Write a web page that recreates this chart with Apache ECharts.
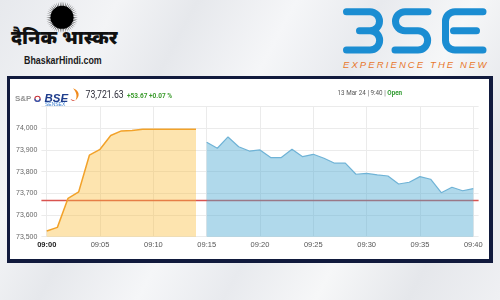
<!DOCTYPE html>
<html><head><meta charset="utf-8">
<script src="https://cdn.jsdelivr.net/npm/echarts@6/dist/echarts.min.js"></script>
<style>
html,body{margin:0;padding:0;width:500px;height:300px;overflow:hidden}
body{position:relative;background:linear-gradient(118deg,#e7e9ed 0%,#f3f4f6 18%,#e6e8ec 30%,#f5f6f8 45%,#e8eaee 58%,#f6f7f8 72%,#e5e7eb 86%,#eff0f3 100%);font-family:'Liberation Sans',Arial,sans-serif}
.abs{position:absolute}
#frame{left:7px;top:76px;width:478.5px;height:179.5px;background:#fff;border-style:solid;border-color:#111a3d;border-width:3.5px 4px 4px 3px}
#chart{left:0;top:0;width:500px;height:300px}
#hindi{left:11px;top:29px;font-family:'Noto Sans Devanagari','Lohit Devanagari','Noto Sans',sans-serif;font-weight:900;font-size:19px;line-height:22px;color:#111;white-space:nowrap}
#site{left:24px;top:54.5px;font-weight:bold;font-size:10px;line-height:11px;color:#1a1a1a;transform:scaleX(0.885);transform-origin:0 0;white-space:nowrap}
#tag{left:343px;top:58.5px;font-style:italic;font-size:9.5px;line-height:11px;letter-spacing:2.1px;color:#e8782c;white-space:nowrap}
</style></head>
<body>
<div id="frame" class="abs"></div>
<svg id="deco" class="abs" width="500" height="300" style="left:0;top:0" aria-label="BSE">
  <g id="sun"></g>
  <g fill="none" stroke="#1b8dd2" stroke-width="7" stroke-linecap="round">
    <path d="M 346.5 11.7 H 370 A 9.5 9.5 0 0 1 370 30.7 H 359.5 M 370 30.7 A 9.65 9.65 0 0 1 370 50 H 346.5"/>
    <path d="M 428 11.7 H 405 A 9.5 9.5 0 0 0 405 30.7 H 418 A 9.65 9.65 0 0 1 418 50 H 395"/>
    <path d="M 483 11.7 H 455 A 9.5 9.5 0 0 0 445.5 21.2 V 40.5 A 9.5 9.5 0 0 0 455 50 H 483 M 453.5 30.7 H 476.5"/>
  </g>
  <circle cx="37.5" cy="98.8" r="2.6" fill="none" stroke="#c8323a" stroke-width="1.1"/>
  <path d="M 34.9 98.8 A 2.6 2.6 0 0 0 40.1 98.8" fill="none" stroke="#2b5bb8" stroke-width="1.2"/>
  <path d="M 73 88.3 C 79.5 90.5 80.5 96 75.5 100.5 C 77.5 96 76.5 92.5 73 88.3 Z" fill="#f08a1c"/>
  <path d="M 70.5 99 C 73 100.5 74.5 100.5 75.5 100.5 C 74 101.5 71.5 101 70.5 99 Z" fill="#d23a2a"/>
</svg>
<div id="hindi" class="abs">दैनिक भास्कर</div>
<div id="site" class="abs">BhaskarHindi.com</div>
<div id="tag" class="abs">EXPERIENCE THE NEW</div>
<div id="chart" class="abs"></div>
<script>
// ---- data ----
const times = ['09:00','09:01','09:02','09:03','09:04','09:05','09:06','09:07','09:08','09:09',
  '09:10','09:11','09:12','09:13','09:14','09:15','09:16','09:17','09:18','09:19',
  '09:20','09:21','09:22','09:23','09:24','09:25','09:26','09:27','09:28','09:29',
  '09:30','09:31','09:32','09:33','09:34','09:35','09:36','09:37','09:38','09:39','09:40'];
const preOpenValues = [73526,73543,73677,73707,73876,73903,73967,73988,73990,73996,73996,73996,73996,73996,73996];
const sessionValues = [73936,73908,73960,73915,73895,73900,73865,73865,73903,73869,73880,73862,73839,73839,
  73788,73792,73785,73780,73743,73751,73777,73765,73703,73728,73712,73722];
const previousClose = 73667.96;
const yTicks = [73500,73600,73700,73800,73900,74000];
const headline = {price:'73,721.63', change:'+53.67 +0.07 %', stamp:'13 Mar 24 | 9:40 | ', status:'Open'};

// ---- decoration: sun ----
(function(){
  const g = document.getElementById('sun');
  const cx = 62, cy = 17.3;
  let s = '<circle cx="'+cx+'" cy="'+cy+'" r="11.5" fill="#000"/>';
  for (let k = 0; k < 48; k++) {
    const a = k * Math.PI * 2 / 48, w = Math.PI / 90;
    const p = (r, b) => (cx + r * Math.cos(b)).toFixed(2) + ',' + (cy + r * Math.sin(b)).toFixed(2);
    s += '<polygon points="' + p(10, a - w) + ' ' + p(16, a) + ' ' + p(10, a + w) + '" fill="#000"/>';
  }
  g.innerHTML = s;
})();

// ---- chart ----
const nPre = preOpenValues.length;
const preData = times.map((t,i)=> i < nPre ? preOpenValues[i] : null);
const sesData = times.map((t,i)=> i >= nPre ? sessionValues[i-nPre] : null);

const chart = echarts.init(document.getElementById('chart'), null, {renderer:'canvas'});
chart.setOption({
  animation:false,
  backgroundColor:'transparent',
  grid:{left:41.4, right:21.4, top:106.6, bottom:63.3, containLabel:false},
  xAxis:{
    type:'category', data:times, boundaryGap:true,
    axisLine:{show:false}, axisTick:{show:false},
    axisLabel:{interval:4, margin:4, fontSize:7.5, color:'#555', fontFamily:'Liberation Sans',
      formatter:(v,i)=> i===0 ? '{b|'+v+'}' : v,
      rich:{b:{fontWeight:'bold', color:'#222', fontSize:7.5, fontFamily:'Liberation Sans'}}},
    splitLine:{show:true, interval:4, alignWithLabel:true, lineStyle:{color:'#ebebeb', width:1}}
  },
  yAxis:{
    type:'value', min:yTicks[0], max:74100, interval:100,
    axisLine:{show:false}, axisTick:{show:false},
    axisLabel:{showMaxLabel:false, margin:4, fontSize:7, color:'#666', fontFamily:'Liberation Sans',
      formatter:v=> v.toLocaleString('en-US')},
    splitLine:{lineStyle:{color:'#ebebeb', width:1}}
  },
  series:[
    {type:'line', name:'previous close', data:[], z:1, symbol:'none',
      markLine:{z:1, silent:true, symbol:['none','none'], label:{show:false},
        lineStyle:{color:'#d9534f', width:1.3, type:'solid'}, data:[{yAxis:previousClose}]}},
    {type:'line', name:'pre-open', data:preData, z:2, symbol:'none', showSymbol:false,
      lineStyle:{color:'#f2a22a', width:1.5}, areaStyle:{color:'rgba(250,188,60,0.58)'}},
    {type:'line', name:'session', data:sesData, z:3, symbol:'none', showSymbol:false,
      lineStyle:{color:'#6fb3d6', width:1.2}, areaStyle:{color:'rgba(73,168,210,0.62)'}}
  ],
  graphic:[
    {type:'text', x:15, y:99, style:{text:'S&P', font:'bold 8px Liberation Sans', fill:'#939393', verticalAlign:'middle'}},
    {type:'text', x:44.5, y:98.6, style:{text:'BSE', font:'italic bold 11.5px Liberation Sans', fill:'#1d3c8c', verticalAlign:'middle'}},
    {type:'text', x:45, y:104.6, style:{text:'SENSEX', font:'5px Liberation Sans', fill:'#3d7fd0', verticalAlign:'middle'}},
    {type:'text', x:85.5, y:95.6, scaleX:0.87, originX:0, style:{text:headline.price, font:'10px Roboto', fill:'#2d2d3a', verticalAlign:'middle'}},
    {type:'text', x:127, y:96.3, scaleX:0.93, style:{text:headline.change, font:'bold 7px Roboto', fill:'#3a9b2c', verticalAlign:'middle'}},
    {type:'text', x:337.5, y:93.7, scaleX:0.9, style:{text:'{a|'+headline.stamp+'}{b|'+headline.status+'}', verticalAlign:'middle',
      rich:{a:{fontSize:7, fontFamily:'Roboto', fill:'#555'}, b:{fontSize:7, fontFamily:'Roboto', fontWeight:'bold', fill:'#2e9a2e'}}}}
  ]
});
</script>
</body></html>
